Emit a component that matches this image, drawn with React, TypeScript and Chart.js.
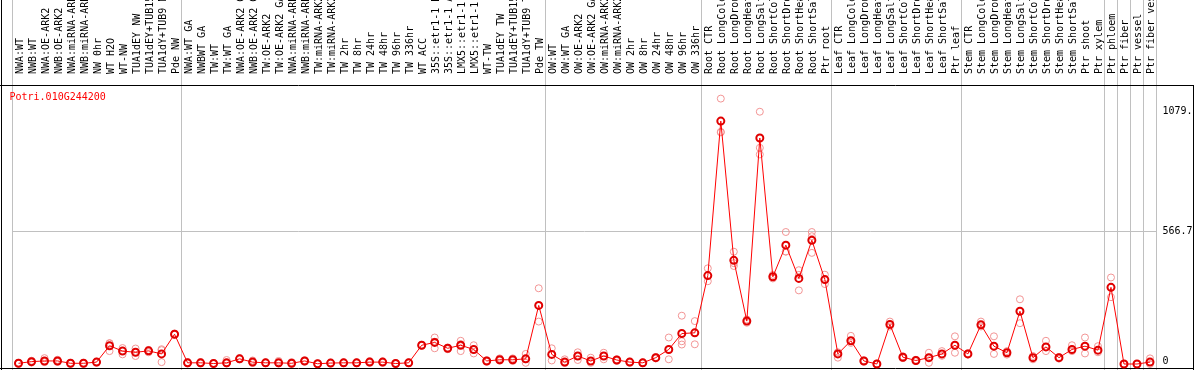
import React, { useEffect, useRef } from "react";
import { Chart, registerables } from "chart.js";

Chart.register(...registerables);

const GENE_ID = "Potri.010G244200";

const CATEGORIES: string[] = [
  "NWA:WT", "NWB:WT", "NWA:OE-ARK2", "NWB:OE-ARK2", "NWA:miRNA-ARK2", "NWB:miRNA-ARK2", "NW 0hr", "WT H2O", "WT-NW", "TUA1dEY NW", "TUA1dEY+TUB15 NW", "TUA1dY+TUB9 NW", "Pde NW",
  "NWA:WT GA", "NWBWT GA", "TW:WT", "TW:WT GA", "NWA:OE-ARK2 GA", "NWB:OE-ARK2 GA", "TW:OE-ARK2", "TW:OE-ARK2 GA", "NWA:miRNA-ARK2 GA", "NWB:miRNA-ARK2 GA", "TW:miRNA-ARK2", "TW:miRNA-ARK2 GA", "TW 2hr", "TW 8hr", "TW 24hr", "TW 48hr", "TW 96hr", "TW 336hr", "WT ACC", "35S::etr1-1 H2O", "35S::etr1-1 ACC", "LMX5::etr1-1 H2O", "LMX5::etr1-1 ACC", "WT-TW", "TUA1dEY TW", "TUA1dEY+TUB15 TW", "TUA1dY+TUB9 TW", "Pde TW",
  "OW:WT", "OW:WT GA", "OW:OE-ARK2", "OW:OE-ARK2 GA", "OW:miRNA-ARK2", "OW:miRNA-ARK2 GA", "OW 2hr", "OW 8hr", "OW 24hr", "OW 48hr", "OW 96hr", "OW 336hr",
  "Root CTR", "Root LongCold", "Root LongDrought", "Root LongHeat", "Root LongSalt", "Root ShortCold", "Root ShortDrought", "Root ShortHeat", "Root ShortSalt", "Ptr root",
  "Leaf CTR", "Leaf LongCold", "Leaf LongDrought", "Leaf LongHeat", "Leaf LongSalt", "Leaf ShortCold", "Leaf ShortDrought", "Leaf ShortHeat", "Leaf ShortSalt", "Ptr leaf",
  "Stem CTR", "Stem LongCold", "Stem LongDrought", "Stem LongHeat", "Stem LongSalt", "Stem ShortCold", "Stem ShortDrought", "Stem ShortHeat", "Stem ShortSalt", "Ptr shoot", "Ptr xylem",
  "Ptr phloem", "Ptr fiber", "Ptr vessel", "Ptr fiber vessel",
];

// index of the first category of each group (plus the end)
const GROUP_BOUNDARIES: number[] = [0, 13, 41, 53, 63, 73, 84, 85, 86, 87, 88];

const MEAN: number[] = [
  3, 10, 13, 13, 3, 3, 8, 78, 55, 50, 56, 43, 127,
  5, 5, 2, 5, 22, 8, 5, 5, 3, 13, 1, 4, 5, 5, 8, 8, 2, 5, 80, 92, 67, 80, 62, 13, 18, 18, 22, 250,
  41, 8, 34, 13, 34, 17, 8, 5, 27, 62, 130, 133,
  377, 1036, 442, 183, 964, 372, 507, 365, 528, 360,
  43, 99, 13, 0, 169, 29, 15, 27, 43, 80,
  43, 167, 76, 48, 225, 27, 73, 27, 62, 76, 59,
  327, 0, 0, 8,
];

const REP_1: number[] = [
  5, 14, 25, 18, 5, 5, 10, 89, 68, 66, 60, 63, 130,
  8, 8, 4, 17, 25, 15, 7, 13, 8, 16, 3, 6, 7, 7, 12, 11, 4, 7, 82, 113, 70, 99, 80, 16, 24, 24, 43, 323,
  67, 20, 50, 27, 48, 20, 10, 7, 30, 113, 206, 183,
  408, 1132, 479, 190, 1076, 380, 563, 400, 563, 381,
  50, 120, 16, 2, 181, 33, 18, 48, 55, 118,
  46, 181, 118, 55, 276, 34, 99, 30, 80, 113, 76,
  369, 0, 0, 24,
];

const REP_2: number[] = [
  1, 6, 8, 9, 1, 1, 5, 55, 41, 34, 50, 8, 125,
  2, 2, 1, 2, 20, 4, 3, 2, 1, 10, 0, 2, 3, 3, 5, 5, 0, 3, 78, 67, 63, 55, 45, 10, 14, 13, 5, 181,
  15, 4, 17, 5, 20, 13, 5, 3, 24, 20, 97, 84,
  353, 988, 418, 176, 922, 365, 479, 314, 474, 341,
  27, 90, 10, 0, 160, 25, 12, 5, 35, 48,
  40, 160, 43, 40, 174, 20, 55, 23, 55, 45, 50,
  285, 0, 0, 0,
];

const REP_3: number[] = [
  3, 10, 13, 13, 3, 3, 8, 88, 56, 50, 58, 59, 127,
  5, 5, 2, 5, 22, 8, 5, 5, 3, 13, 1, 4, 5, 5, 8, 8, 2, 5, 80, 95, 67, 85, 62, 13, 18, 18, 20, 250,
  41, 8, 34, 13, 34, 17, 8, 5, 27, 62, 83, 133,
  377, 990, 430, 183, 894, 372, 480, 380, 545, 360,
  43, 99, 13, 0, 169, 29, 15, 27, 43, 80,
  43, 167, 76, 48, 225, 27, 73, 27, 62, 76, 59,
  327, 0, 0, 8,
];

const Y_TICKS: number[] = [0, 566.7, 1079.4];
const Y_MAX = 1190;

const MONO = "'DejaVu Sans Mono', 'Liberation Mono', monospace";

const framePlugin = {
  id: "frame",
  beforeDatasetsDraw(chart: any) {
    const ctx = chart.ctx;
    const xs = chart.scales.x;
    const area = chart.chartArea;
    const W = chart.width;
    const H = chart.height;
    const half = (xs.getPixelForValue(1) - xs.getPixelForValue(0)) / 2;
    ctx.save();
    ctx.strokeStyle = "#c0c0c0";
    ctx.lineWidth = 1;
    for (const b of GROUP_BOUNDARIES) {
      const px = Math.round(xs.getPixelForValue(b) - half) + 0.5;
      ctx.beginPath();
      ctx.moveTo(px, 0);
      ctx.lineTo(px, H);
      ctx.stroke();
    }
    ctx.strokeStyle = "#000";
    ctx.beginPath();
    ctx.moveTo(1.5, 0);
    ctx.lineTo(1.5, H);
    ctx.moveTo(0, Math.round(area.top) + 0.5);
    ctx.lineTo(W, Math.round(area.top) + 0.5);
    ctx.moveTo(W - 0.5, Math.round(area.top));
    ctx.lineTo(W - 0.5, H);
    ctx.moveTo(0, 368.5);
    ctx.lineTo(W, 368.5);
    ctx.stroke();
    ctx.restore();
  },
  afterDraw(chart: any) {
    const ctx = chart.ctx;
    const area = chart.chartArea;
    ctx.save();
    ctx.fillStyle = "#ff0000";
    ctx.font = `10px ${MONO}`;
    ctx.textAlign = "left";
    ctx.textBaseline = "middle";
    ctx.fillText(GENE_ID, area.left - 2.5, area.top + 12);
    ctx.restore();
  },
};

export default function App() {
  const ref = useRef<HTMLCanvasElement | null>(null);

  useEffect(() => {
    if (!ref.current) return;
    const repStyle = {
      showLine: false,
      pointRadius: 3.5,
      pointBorderWidth: 1,
      pointBorderColor: "#f29494",
      pointBackgroundColor: "rgba(0,0,0,0)",
      borderColor: "#f29494",
      order: 2,
      clip: false as any,
    };
    const chart = new Chart(ref.current, {
      type: "line",
      data: {
        labels: CATEGORIES,
        datasets: [
          {
            label: GENE_ID,
            data: MEAN,
            borderColor: "#ff0000",
            borderWidth: 1,
            pointStyle: "circle",
            pointRadius: 3.5,
            pointBorderWidth: 2,
            pointBorderColor: "#e00000",
            pointBackgroundColor: "rgba(0,0,0,0)",
            order: 0,
            clip: false as any,
          },
          { label: "rep1", data: REP_1, ...repStyle },
          { label: "rep2", data: REP_2, ...repStyle },
          { label: "rep3", data: REP_3, ...repStyle },
        ],
      },
      options: {
        animation: false,
        responsive: false,
        maintainAspectRatio: false,
        layout: { padding: { left: 12, right: 0, top: 0, bottom: 2.5 } },
        plugins: { legend: { display: false }, tooltip: { enabled: false } },
        scales: {
          x: {
            type: "category",
            position: "top",
            offset: true,
            grid: { display: false },
            border: { display: false },
            ticks: {
              autoSkip: false,
              minRotation: 90,
              maxRotation: 90,
              padding: 3,
              labelOffset: 13.5,
              color: "#000",
              font: { family: MONO, size: 10 },
            },
            afterFit: (s: any) => {
              s.height = 85;
              s.paddingLeft = 0;
              s.paddingRight = 0;
            },
          },
          y: {
            position: "right",
            min: 0,
            max: Y_MAX,
            grid: {
              drawTicks: false,
              color: (c: any) => (c.tick && c.tick.value === 566.7 ? "#c0c0c0" : "rgba(0,0,0,0)"),
            },
            border: { display: false },
            afterBuildTicks: (s: any) => {
              s.ticks = Y_TICKS.map((v) => ({ value: v }));
            },
            ticks: {
              padding: 6,
              color: "#000",
              font: (c: any) =>
                c.tick && c.tick.value === 0
                  ? { family: MONO, size: 10, lineHeight: 0.6 }
                  : { family: MONO, size: 10 },
              callback: (v: any) => (v === 0 ? ["0", ""] : String(v)),
            },
            afterFit: (s: any) => {
              s.width = 37.5;
              s.paddingTop = 0;
              s.paddingBottom = 0;
            },
          },
        },
      },
      plugins: [framePlugin],
    });
    return () => chart.destroy();
  }, []);

  return (
    <div style={{ position: "absolute", left: 0, top: 0, width: 1194, height: 370, background: "#fff" }}>
      <canvas ref={ref} width={1194} height={370} style={{ display: "block" }} />
    </div>
  );
}
